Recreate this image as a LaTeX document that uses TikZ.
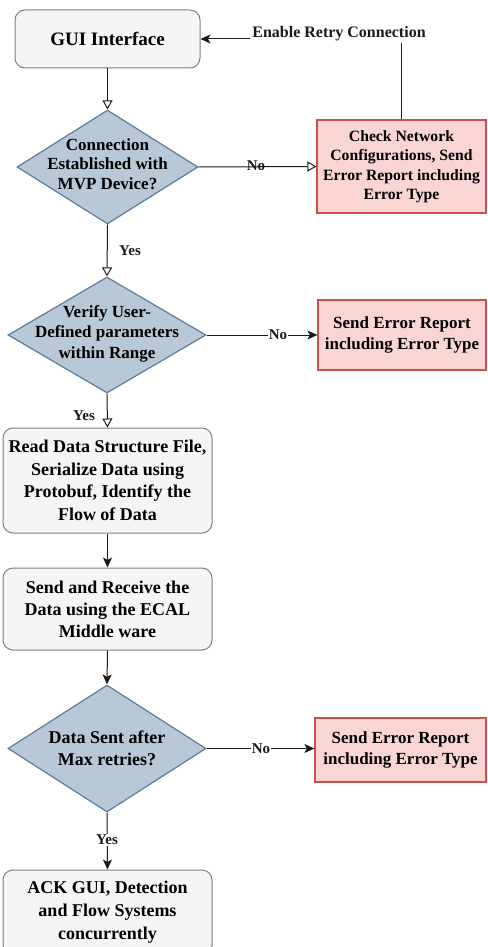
\documentclass[tikz,border=0pt]{standalone}
\usepackage{fontspec}
\setmainfont{Liberation Serif}
\usetikzlibrary{shapes.geometric,arrows.meta}
\definecolor{gfill}{HTML}{F5F5F5}
\definecolor{gline}{HTML}{808080}
\definecolor{dfill}{HTML}{B8C8D6}
\definecolor{dline}{HTML}{5B7D9C}
\definecolor{rfill}{HTML}{F9D6D3}
\definecolor{rline}{HTML}{C4534D}
\definecolor{lcol}{HTML}{1A1A1A}
\newcommand{\fs}[2]{\fontsize{#1}{#2}\selectfont\bfseries}
\tikzset{
  gbox/.style={draw=gline, fill=gfill, line width=1pt, rounded corners=10pt, align=center, inner sep=0pt},
  rbox/.style={draw=rline, fill=rfill, line width=1.2pt, align=center, inner sep=0pt},
  dia/.style={diamond, draw=dline, fill=dfill, line width=1.2pt, inner sep=0pt},
  dtxt/.style={align=center, inner sep=0pt},
  conn/.style={draw=lcol, line width=1pt},
  openarr/.style={conn, -{Triangle[open, length=9pt, width=10pt, line width=1pt]}},
  fillarr/.style={conn, -{Stealth[length=10pt, width=9pt, inset=2.5pt]}},
  lab/.style={text=lcol, inner sep=1pt, font={\fs{15}{18}}},
}
\begin{document}
\begin{tikzpicture}[x=1pt, y=-1pt]
\useasboundingbox (0,0) rectangle (487,947);
% nodes
\node[gbox, minimum width=185pt, minimum height=58pt, font={\fs{19}{22}}] (gui) at (107.5,39) {GUI Interface};
\node[dia, minimum width=181pt, minimum height=114pt] (d1) at (107.5,167) {};
\node[dtxt, font={\fs{17}{19.5}}] (d1t) at (107.5,164) {Connection\\Established with\\MVP Device?};
\node[rbox, minimum width=169pt, minimum height=93pt, font={\fs{15.7}{19.5}}] (chk) at (401.5,166.5) {Check Network\\Configurations, Send\\Error Report including\\Error Type};
\node[dia, minimum width=198pt, minimum height=116pt] (d2) at (107,335) {};
\node[dtxt, font={\fs{17}{20.5}}] (d2t) at (107,333.5) {Verify User-\\Defined parameters\\within Range};
\node[rbox, minimum width=168pt, minimum height=70pt, font={\fs{17}{21}}] (err1) at (402,335) {Send Error Report\\including Error Type};
\node[gbox, minimum width=209pt, minimum height=105pt, font={\fs{18}{22.5}}] (b3) at (107.5,480.5) {Read Data Structure File,\\Serialize Data using\\Protobuf, Identify the\\Flow of Data};
\node[gbox, minimum width=209pt, minimum height=82pt, font={\fs{18}{22}}] (b4) at (107.5,609) {Send and Receive the\\Data using the ECAL\\Middle ware};
\node[dia, minimum width=198pt, minimum height=127pt] (d3) at (107,748.5) {};
\node[dtxt, font={\fs{18}{22}}] (d3t) at (107,748) {Data Sent after\\Max retries?};
\node[rbox, minimum width=171pt, minimum height=64pt, font={\fs{17}{21}}] (err2) at (400.5,750) {Send Error Report\\including Error Type};
\node[gbox, minimum width=209pt, minimum height=85pt, font={\fs{18}{23}}] (b5) at (107.5,912.5) {ACK GUI, Detection\\and Flow Systems\\concurrently};
% connectors
\draw[openarr] (gui.south) -- (d1.north);
\draw[openarr] (d1.east) -- (chk.west);
\node[lab] (no1) at (256,166) {No};
\draw[fillarr] (chk.north) |- (gui.east);
\node[lab, fill=white, inner sep=2pt, font={\fs{16}{19}}] (retry) at (339,34) {Enable Retry Connection};
\draw[openarr] (d1.south) -- (d2.north);
\node[lab] (yes1) at (130,251) {Yes};
\draw[fillarr] (d2.east) -- (err1.west);
\node[lab, fill=white] (no2) at (278,335) {No};
\draw[openarr] (d2.south) -- (b3.north);
\node[lab] (yes2) at (84,416) {Yes};
\draw[fillarr] (b3.south) -- (b4.north);
\draw[fillarr] (b4.south) -- (d3.north);
\draw[fillarr] (d3.east) -- (d3.east -| err2.west);
\node[lab, fill=white] (no3) at (261,748.5) {No};
\draw[fillarr] (d3.south) -- (b5.north);
\node[lab, fill=white] (yes3) at (107,840) {Yes};
\end{tikzpicture}
\end{document}
